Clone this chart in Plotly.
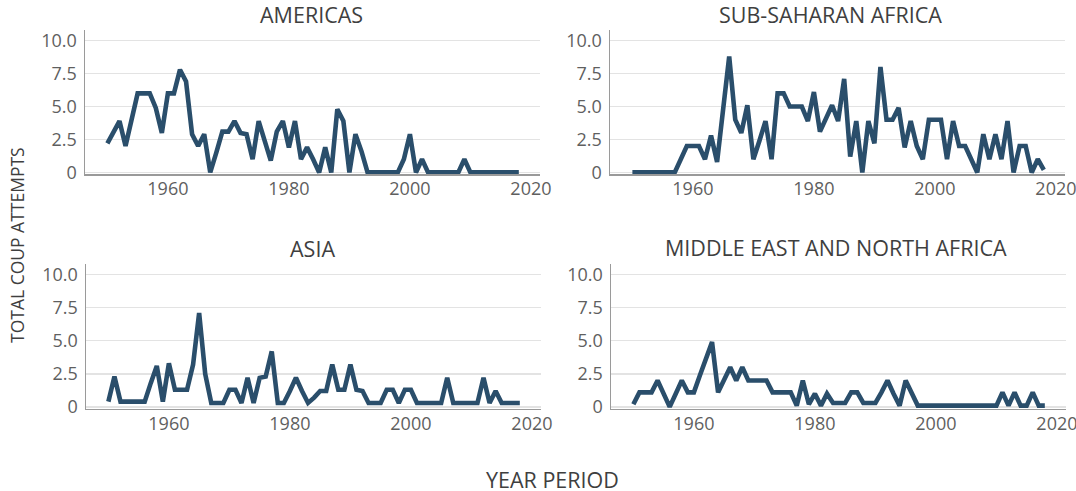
import plotly.graph_objects as go

# ---------------- data ----------------
years = list(range(1950, 2019))

americas = [
    2.2, 3.0, 3.9, 2.0, 4.0, 6.0, 6.0, 6.0, 4.9, 3.0,
    6.0, 6.0, 7.8, 6.9, 2.9, 2.0, 2.9, 0.0, 1.5, 3.1,
    3.1, 3.9, 3.0, 2.9, 1.0, 3.9, 2.4, 0.9, 3.1, 3.9,
    1.9, 3.9, 1.0, 1.9, 1.0, 0.0, 1.9, 0.0, 4.8, 3.9,
    0.0, 2.9, 1.6, 0.0, 0.0, 0.0, 0.0, 0.0, 0.0, 1.0,
    2.9, 0.0, 1.0, 0.0, 0.0, 0.0, 0.0, 0.0, 0.0, 1.0,
    0.0, 0.0, 0.0, 0.0, 0.0, 0.0, 0.0, 0.0, 0.0,
]

sub_saharan_africa = [
    0.0, 0.0, 0.0, 0.0, 0.0, 0.0, 0.0, 0.0, 1.0, 2.0,
    2.0, 2.0, 1.0, 2.8, 0.8, 4.8, 8.8, 4.0, 3.0, 5.1,
    1.0, 2.4, 3.9, 1.0, 6.0, 6.0, 5.0, 5.0, 5.0, 3.9,
    6.1, 3.1, 4.1, 5.1, 3.9, 7.1, 1.2, 3.9, 0.0, 3.9,
    2.2, 8.0, 4.0, 4.0, 4.9, 1.9, 3.9, 2.0, 1.0, 4.0,
    4.0, 4.0, 1.0, 3.9, 2.0, 2.0, 1.0, 0.0, 2.9, 1.0,
    2.9, 1.0, 3.9, 0.0, 2.0, 2.0, 0.0, 1.0, 0.2,
]

asia = [
    0.4, 2.3, 0.4, 0.4, 0.4, 0.4, 0.4, 1.8, 3.1, 0.4,
    3.3, 1.3, 1.3, 1.3, 3.2, 7.1, 2.5, 0.3, 0.3, 0.3,
    1.3, 1.3, 0.3, 2.2, 0.3, 2.2, 2.3, 4.2, 0.3, 0.3,
    1.2, 2.2, 1.2, 0.3, 0.7, 1.2, 1.2, 3.2, 1.3, 1.3,
    3.2, 1.3, 1.2, 0.3, 0.3, 0.3, 1.3, 1.3, 0.3, 1.3,
    1.3, 0.3, 0.3, 0.3, 0.3, 0.3, 2.2, 0.3, 0.3, 0.3,
    0.3, 0.3, 2.2, 0.3, 1.2, 0.3, 0.3, 0.3, 0.3,
]

middle_east_north_africa = [
    0.2, 1.1, 1.1, 1.1, 2.0, 1.0, 0.0, 1.0, 2.0, 1.1,
    1.1, 2.4, 3.6, 4.9, 1.1, 2.0, 3.0, 2.0, 3.0, 2.0,
    2.0, 2.0, 2.0, 1.1, 1.1, 1.1, 1.1, 0.1, 2.0, 0.2,
    1.0, 0.1, 1.0, 0.3, 0.3, 0.3, 1.1, 1.1, 0.3, 0.3,
    0.3, 1.1, 2.0, 1.0, 0.1, 2.0, 1.0, 0.1, 0.1, 0.1,
    0.1, 0.1, 0.1, 0.1, 0.1, 0.1, 0.1, 0.1, 0.1, 0.1,
    0.1, 1.1, 0.1, 1.1, 0.1, 0.1, 1.1, 0.1, 0.1,
]

panel_titles = ["AMERICAS", "SUB-SAHARAN AFRICA", "ASIA", "MIDDLE EAST AND NORTH AFRICA"]
x_tick_vals = [1960, 1980, 2000, 2020]
y_tick_vals = [0, 2.5, 5, 7.5, 10]
y_tick_text = ["0", "2.5", "5.0", "7.5", "10.0"]
y_axis_title = "TOTAL COUP ATTEMPTS"
x_axis_title = "YEAR PERIOD"

series = [americas, sub_saharan_africa, asia, middle_east_north_africa]

# ---------------- style / layout ----------------
W, H = 1076, 491
FONT = "Open Sans, sans-serif"
LINE_COLOR = "#2a4e6b"
AXIS_COLOR = "#9a9a9a"
GRID_COLOR = "#e3e3e3"
TITLE_COLOR = "#3f3f3f"
TICK_COLOR = "#5f5f5f"


def px_x(x):
    return x / W


def px_y(y):
    return 1 - y / H


# panel plot areas in page pixels: (left, right, top, bottom)
panels = [
    (85, 540, 29.5, 174),
    (610, 1065, 29.5, 174),
    (86, 541, 263.5, 408.5),
    (611, 1066, 263.5, 408.5),
]
title_pos = [(311, 14), (830, 14), (312, 248), (836, 247)]
X_RANGE = [1946.3, 2021.5]
Y_RANGE = [-0.12, 10.85]

fig = go.Figure()
layout = dict(
    width=W, height=H, autosize=False,
    margin=dict(l=0, r=0, t=0, b=0),
    paper_bgcolor="white", plot_bgcolor="white",
    showlegend=False,
    font=dict(family=FONT, color=TICK_COLOR),
)

annotations = []
for i, (vals, title) in enumerate(zip(series, panel_titles)):
    n = "" if i == 0 else str(i + 1)
    fig.add_trace(go.Scatter(
        x=years, y=vals, mode="lines",
        line=dict(color=LINE_COLOR, width=4.6),
        xaxis="x" + n, yaxis="y" + n, hoverinfo="skip",
    ))
    l, r, t, b = panels[i]
    layout["xaxis" + n] = dict(
        domain=[px_x(l), px_x(r)], anchor="y" + n, range=X_RANGE,
        tickvals=x_tick_vals, showgrid=False, zeroline=False,
        showline=True, linecolor=AXIS_COLOR, linewidth=1.5,
        ticks="", tickfont=dict(size=18, color=TICK_COLOR, family=FONT),
        ticklabelstandoff=-2, automargin=False, ticklabeloverflow="allow",
    )
    layout["yaxis" + n] = dict(
        domain=[px_y(b), px_y(t)], anchor="x" + n, range=Y_RANGE,
        tickvals=y_tick_vals, ticktext=y_tick_text,
        showgrid=True, gridcolor=GRID_COLOR, gridwidth=1.3, zeroline=False,
        showline=True, linecolor=AXIS_COLOR, linewidth=1.5,
        ticks="", tickfont=dict(size=18, color=TICK_COLOR, family=FONT),
        ticklabelstandoff=3, automargin=False,
    )
    tx, ty = title_pos[i]
    annotations.append(dict(
        text=title, x=px_x(tx), y=px_y(ty), xref="paper", yref="paper",
        xanchor="center", yanchor="middle", showarrow=False,
        font=dict(size=21.5, color=TITLE_COLOR, family=FONT),
    ))

annotations.append(dict(
    text=y_axis_title, x=px_x(17), y=px_y(245), xref="paper", yref="paper",
    xanchor="center", yanchor="middle", showarrow=False, textangle=-90,
    font=dict(size=17.5, color=TITLE_COLOR, family=FONT),
))
annotations.append(dict(
    text=x_axis_title, x=px_x(552), y=px_y(479), xref="paper", yref="paper",
    xanchor="center", yanchor="middle", showarrow=False,
    font=dict(size=21.5, color=TITLE_COLOR, family=FONT),
))
layout["annotations"] = annotations
fig.update_layout(**layout)

# remove the browser's default page margin so the figure sits at the window origin
fig.write_html(
    "out.html",
    config={"displayModeBar": False, "staticPlot": True},
    post_script="document.body.style.margin='0px';document.body.style.overflow='hidden';",
)
